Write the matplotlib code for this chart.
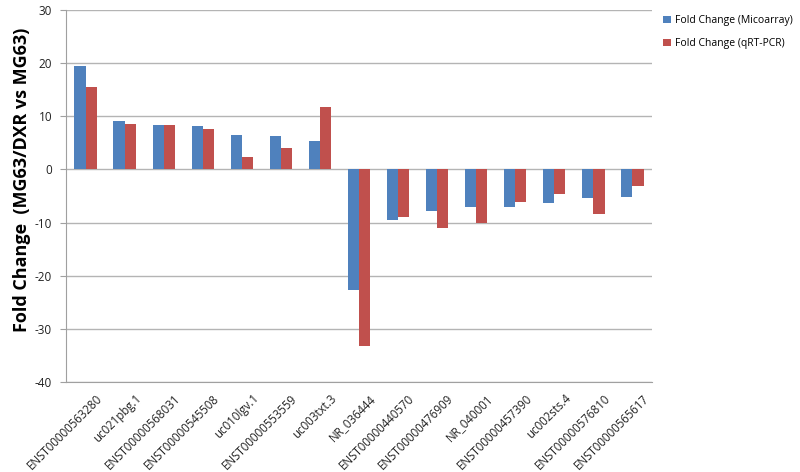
import matplotlib
matplotlib.use("Agg")
import matplotlib.pyplot as plt
import matplotlib.transforms as mtransforms
import numpy as np

plt.rcParams['font.family'] = ['Open Sans', 'DejaVu Sans']

categories = ["ENST00000563280", "uc021pbg.1", "ENST00000568031", "ENST00000545508",
              "uc010lgv.1", "ENST00000553559", "uc003txt.3", "NR_036444",
              "ENST00000440570", "ENST00000476909", "NR_040001", "ENST00000457390",
              "uc002sts.4", "ENST00000576810", "ENST00000565617"]
microarray = [19.4, 9.1, 8.4, 8.2, 6.4, 6.2, 5.4, -22.7, -9.6, -7.8, -7.1, -7.1, -6.4, -5.4, -5.1]
qrtpcr = [15.6, 8.6, 8.4, 7.6, 2.4, 4.0, 11.8, -33.3, -9.0, -11.0, -10.0, -6.1, -4.6, -8.3, -3.1]
series_names = ["Fold Change (Micoarray)", "Fold Change (qRT-PCR)"]
yticks = [-40, -30, -20, -10, 0, 10, 20, 30]

fig = plt.figure(figsize=(8, 4.72), dpi=100)
ax = fig.add_axes([66/800, 1 - 382/472, (652-66)/800, (382-10)/472])

x = np.arange(len(categories))
w = 0.285
b1 = ax.bar(x - w/2, microarray, w, color="#4F81BD", label=series_names[0], zorder=3)
b2 = ax.bar(x + w/2, qrtpcr, w, color="#C0504D", label=series_names[1], zorder=3)

ax.set_xlim(-0.5, len(categories) - 0.5)
ax.set_ylim(-40, 30)
ax.set_yticks(yticks)
ax.set_yticklabels([str(t) for t in yticks], fontsize=8.5, color="#222222")
ax.yaxis.grid(True, color="#B4B4B4", linewidth=1.0, zorder=0)
ax.set_axisbelow(True)
for s in ["top", "right"]:
    ax.spines[s].set_visible(False)
ax.spines["left"].set_color("#A0A0A0")
ax.spines["bottom"].set_color("#A0A0A0")
ax.tick_params(axis="y", length=4, color="#A0A0A0", pad=6)
ax.tick_params(axis="x", length=0, pad=7)
ax.set_xticks(x)
ax.set_xticklabels(categories, rotation=45, ha="right", rotation_mode="anchor",
                   fontsize=8.3, color="#222222")
offset = mtransforms.ScaledTranslation(10/100, 0, fig.dpi_scale_trans)
for lbl in ax.get_xticklabels():
    lbl.set_transform(lbl.get_transform() + offset)

ax.set_ylabel("Fold Change  (MG63/DXR vs MG63)", fontsize=13, fontweight="bold")
ax.yaxis.set_label_coords(-(66-31)/586, (382-180)/372)

fig.legend(handles=[b1, b2], labels=series_names, loc="upper left",
           bbox_to_anchor=(654/800, 1 - 6/472), frameon=False, fontsize=7.5,
           handlelength=0.7, handleheight=0.7, handletextpad=0.4, labelspacing=1.1)

fig.savefig("out.png", dpi=100)
